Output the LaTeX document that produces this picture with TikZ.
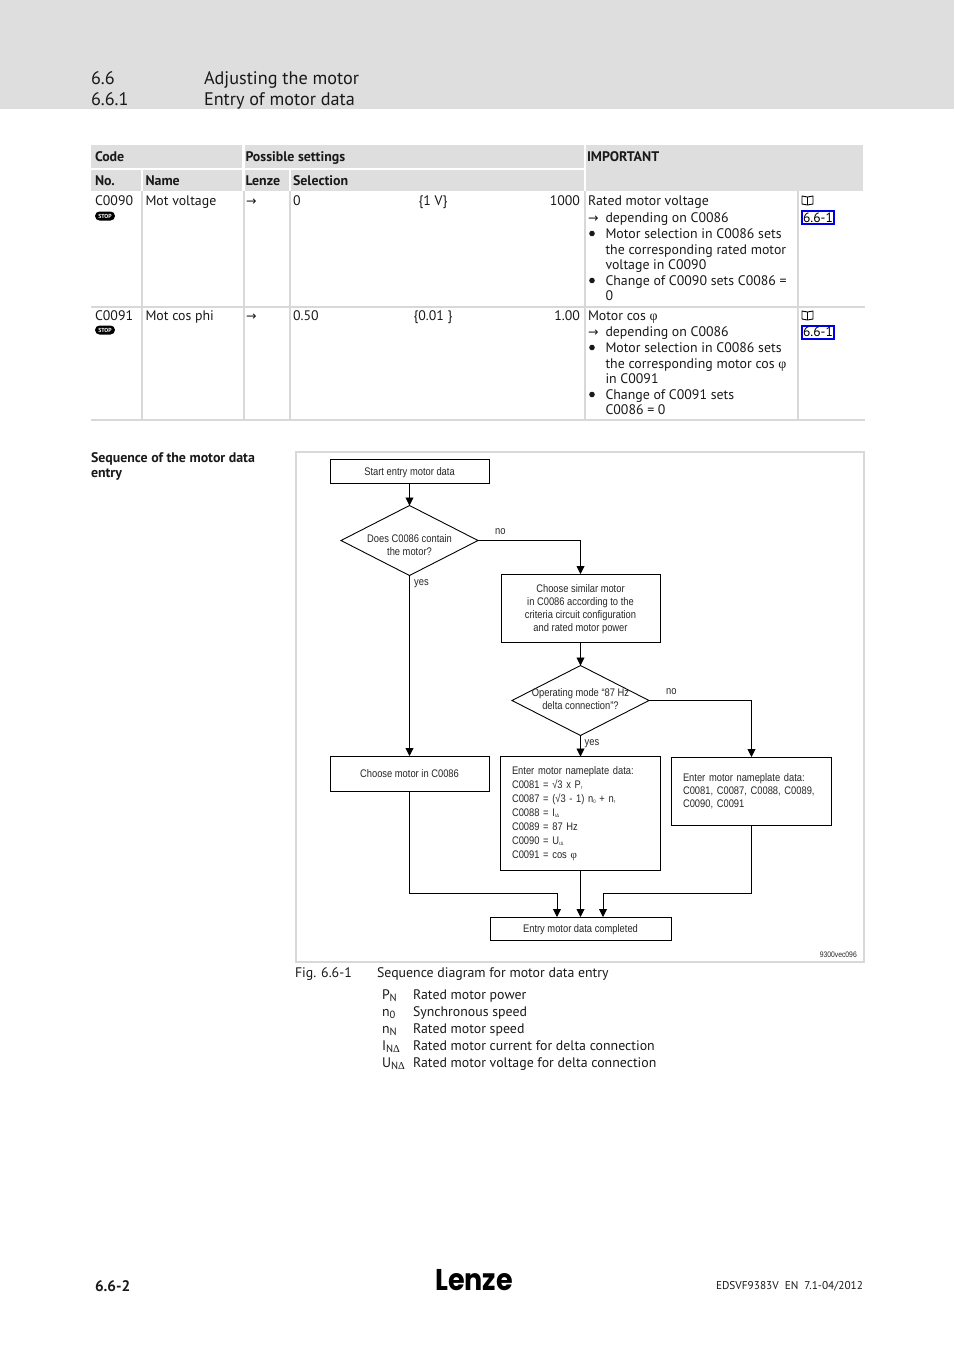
\documentclass[tikz,border=0pt]{standalone}
\usepackage{fontspec}
\setmainfont{PT Sans}
\newfontfamily\flowf[FakeStretch=0.85]{Liberation Sans}
\newfontfamily\symf{DejaVu Sans}
\newfontfamily\serf{Liberation Serif}
\newfontfamily\logof[FakeStretch=0.9]{Poppins}
\usetikzlibrary{shapes.geometric,arrows.meta,calc}
\definecolor{band}{HTML}{DEDEDE}
\definecolor{rule}{HTML}{D8D8D8}
\definecolor{linkb}{HTML}{0000E6}
\tikzset{
  x=1pt,y=-1pt,
  t/.style={anchor=base west,inner sep=0pt,outer sep=0pt,font=\fontsize{13.85}{16}\selectfont,text=black!90},
  tr/.style={t,anchor=base east},
  tc/.style={t,anchor=base},
  th/.style={t,font=\fontsize{13.9}{16}\selectfont\bfseries},
  hd/.style={t,font=\fontsize{18.2}{22}\selectfont},
  cell/.style={fill=band,draw=none},
  grid/.style={draw=rule,line width=2pt},
  fbox/.style={draw=black,line width=.9pt,fill=white,inner sep=0pt,outer sep=0pt,align=center,font=\flowf\fontsize{11}{13}\selectfont,text=black!85},
  fleft/.style={fbox,anchor=north west,align=left,text width=#1,font=\flowf\fontsize{11}{14}\selectfont},
  dia/.style={diamond,draw=black,line width=.9pt,inner sep=0pt,outer sep=0pt},
  ftxt/.style 2 args={label={[yshift=#1,align=center,inner sep=0pt,font=\flowf\fontsize{11}{13}\selectfont,text=black!85]center:#2}},
  lab/.style={anchor=base west,inner sep=0pt,font=\flowf\fontsize{11}{13}\selectfont,text=black!85},
  con/.style={draw=black,line width=.9pt,-{Triangle[length=8pt,width=8pt]}},
  stopb/.style={fill=black,rounded corners=4.5pt,minimum width=20pt,minimum height=9pt,inner sep=0pt,text=white,font=\fontsize{5.8}{6}\selectfont\bfseries},
  linkbox/.style={draw=linkb,line width=2pt,minimum width=32pt,minimum height=13pt,inner sep=0pt,font=\fontsize{13.5}{14}\selectfont},
  arr/.style={t,font=\symf\fontsize{12.5}{14}\selectfont},
  bul/.style={fill=black!90,draw=none},
  leg/.style={t},
}
\newcommand{\sbs}[1]{\raisebox{-2.5pt}{\fontsize{10.5}{11}\selectfont #1}}
\newcommand{\tsb}[1]{\raisebox{-1.5pt}{\fontsize{5}{5}\selectfont #1}}
\newcommand{\dlt}{{\serf Δ}}
\newcommand{\phig}{{\serf φ}}
\newcommand{\bookicon}[2]{%
  \draw[black,line width=.9pt,line join=round] (#1,#2) -- (#1+5.5,#2+1) -- (#1+11,#2) -- (#1+11,#2+8) -- (#1+5.5,#2+9) -- (#1,#2+8) -- cycle (#1+5.5,#2+1) -- (#1+5.5,#2+9);}
\begin{document}
\begin{tikzpicture}
\useasboundingbox (0,0) rectangle (954,1350);
\fill[white] (0,0) rectangle (954,1350);
% header band
\fill[band] (0,0) rectangle (954,109);
\node[hd] (h1) at (91,84) {6.6};
\node[hd] (h2) at (204,84) {Adjusting the motor};
\node[hd] (h3) at (91,105) {6.6.1};
\node[hd] (h4) at (204,105) {Entry of motor data};
% table header cells
\fill[cell] (91,145) rectangle (242,168);
\fill[cell] (245,145) rectangle (584,168);
\fill[cell] (586,145) rectangle (863,191);
\fill[cell] (91,170) rectangle (141,191);
\fill[cell] (143,170) rectangle (242,191);
\fill[cell] (245,170) rectangle (289,191);
\fill[cell] (291,170) rectangle (584,191);
% table rules
\draw[grid] (142,191) -- (142,420);
\draw[grid] (243.5,191) -- (243.5,420);
\draw[grid] (290,191) -- (290,420);
\draw[grid] (585,191) -- (585,420);
\draw[grid] (798,191) -- (798,420);
\draw[grid] (91,307) -- (865,307);
\draw[grid] (91,420) -- (865,420);
% header labels
\node[th] (c1) at (95,161) {Code};
\node[th] (c2) at (245.5,161) {Possible settings};
\node[th] (c3) at (587,161) {IMPORTANT};
\node[th] (c4) at (95,185) {No.};
\node[th] (c5) at (145.5,185) {Name};
\node[th] (c6) at (245.5,185) {Lenze};
\node[th] (c7) at (293,185) {Selection};
% row 1
\node[t] (a1) at (95,205) {C0090};
\node[stopb] (a2) at (105,216) {STOP};
\node[t] (a3) at (145.5,205) {Mot voltage};
\node[arr] (a4) at (246,205) {→};
\node[t] (a5) at (293,205) {0};
\node[tc] (a6) at (433,205) {\{1 V\}};
\node[tr] (a7) at (580,205) {1000};
\node[t] (a8) at (588,205) {Rated motor voltage};
\node[arr] (a9) at (588,222) {→};
\node[t] (a10) at (605.5,222) {depending on C0086};
\fill[bul] (592,233.5) circle (2.8);
\node[t] (a11) at (605.5,238) {Motor selection in C0086 sets};
\node[t] (a12) at (605.5,254) {the corresponding rated motor};
\node[t] (a13) at (605.5,269) {voltage in C0090};
\fill[bul] (592,280.5) circle (2.8);
\node[t] (a14) at (605.5,285) {Change of C0090 sets C0086 =};
\node[t] (a15) at (605.5,300) {0};
\bookicon{802}{196}
\node[linkbox] (a16) at (818,217.5) {6.6-1};
% row 2
\node[t] (b1) at (95,320) {C0091};
\node[stopb] (b2) at (105,330) {STOP};
\node[t] (b3) at (145.5,320) {Mot cos phi};
\node[arr] (b4) at (246,320) {→};
\node[t] (b5) at (293,320) {0.50};
\node[tc] (b6) at (433,320) {\{0.01 \}};
\node[tr] (b7) at (580,320) {1.00};
\node[t] (b8) at (588,320) {Motor cos \phig};
\node[arr] (b9) at (588,336) {→};
\node[t] (b10) at (605.5,336) {depending on C0086};
\fill[bul] (592,347.5) circle (2.8);
\node[t] (b11) at (605.5,352) {Motor selection in C0086 sets};
\node[t] (b12) at (605.5,368) {the corresponding motor cos \phig};
\node[t] (b13) at (605.5,383) {in C0091};
\fill[bul] (592,394.5) circle (2.8);
\node[t] (b14) at (605.5,399) {Change of C0091 sets};
\node[t] (b15) at (605.5,414) {C0086 = 0};
\bookicon{802}{311}
\node[linkbox] (b16) at (818,332) {6.6-1};
% side heading
\node[th] (s1) at (91,462) {Sequence of the motor data};
\node[th] (s2) at (91,477) {entry};
% flowchart frame
\draw[draw=rule,line width=2pt] (296,452) rectangle (864,962);
% flow nodes
\node[fbox,minimum width=159pt,minimum height=24pt,ftxt={-1pt}{Start entry motor data}] (start) at (409.5,471.5) {};
\node[dia,minimum width=137pt,minimum height=70pt,ftxt={-4.5pt}{Does C0086 contain\\the motor?}] (d1) at (409.5,540.5) {};
\node[fbox,minimum width=159pt,minimum height=68pt,ftxt={-1.5pt}{Choose similar motor\\in C0086 according to the\\criteria circuit configuration\\and rated motor power}] (choose) at (580.5,608) {};
\node[dia,minimum width=137pt,minimum height=70pt,ftxt={1pt}{Operating mode “87 Hz\\delta connection”?}] (d2) at (580.5,700.5) {};
\node[fbox,minimum width=159pt,minimum height=35pt,ftxt={0pt}{Choose motor in C0086}] (cm) at (409.5,773.5) {};
\node[fleft=137pt,minimum width=160pt,minimum height=114pt,inner xsep=11.5pt] (e1) at (500.5,756.5) {Enter motor nameplate data:\\C0081 = √3 x P\tsb{r}\\C0087 = (√3 - 1) n\tsb{0} + n\tsb{r}\\C0088 = I\tsb{rΔ}\\C0089 = 87 Hz\\C0090 = U\tsb{rΔ}\\C0091 = cos \phig};
\node[fleft=137pt,minimum width=160pt,minimum height=68pt,inner xsep=11.5pt,font=\flowf\fontsize{11}{13}\selectfont] (e2) at (671.5,757) {Enter motor nameplate data:\\C0081, C0087, C0088, C0089,\\C0090, C0091};
\node[fbox,minimum width=181pt,minimum height=23pt,ftxt={-1pt}{Entry motor data completed}] (fin) at (580.5,928.5) {};
\coordinate (finl) at (557,917);
\coordinate (finr) at (603,917);
\coordinate (bl) at (557,893);
\coordinate (br) at (603,893);
% connectors
\draw[con] (start.south) -- (d1.north);
\draw[con] (d1.east) -| (choose.north);
\draw[con] (choose.south) -- (d2.north);
\draw[con] (d1.south) -- (cm.north);
\draw[con] (d2.south) -- (e1.north);
\draw[con] (d2.east) -| (e2.north);
\draw[con] (e1.south) -- (fin.north);
\draw[con] (cm.south) |- (bl) -- (finl);
\draw[con] (e2.south) |- (br) -- (finr);
\node[lab] (l1) at (495,534) {no};
\node[lab] (l2) at (414,585) {yes};
\node[lab] (l3) at (666,694) {no};
\node[lab] (l4) at (584.5,745) {yes};
\node[anchor=base east,inner sep=0pt,font=\flowf\fontsize{8}{9}\selectfont,text=black!85] (code) at (857,957) {9300vec096};
% caption and legend
\node[leg] (f1) at (295,977) {Fig. 6.6-1};
\node[leg] (f2) at (377,977) {Sequence diagram for motor data entry};
\node[leg] (g1) at (382,999) {P\sbs{N}};
\node[leg] (g2) at (413,999) {Rated motor power};
\node[leg] (g3) at (382,1016) {n\sbs{0}};
\node[leg] (g4) at (413,1016) {Synchronous speed};
\node[leg] (g5) at (382,1033) {n\sbs{N}};
\node[leg] (g6) at (413,1033) {Rated motor speed};
\node[leg] (g7) at (382,1050) {I\sbs{N\dlt}};
\node[leg] (g8) at (413,1050) {Rated motor current for delta connection};
\node[leg] (g9) at (382,1067) {U\sbs{N\dlt}};
\node[leg] (g10) at (413,1067) {Rated motor voltage for delta connection};
% footer
\node[t,font=\fontsize{15.3}{16}\selectfont\bfseries] (p1) at (95,1291) {6.6-2};
\node[anchor=base,inner sep=0pt,font=\logof\fontsize{30}{30}\selectfont\bfseries,text=black] (p2) at (474,1290) {Lenze};
\node[tr,font=\fontsize{11.3}{13}\selectfont] (p3) at (863,1289) {EDSVF9383V\ \ EN\ \ 7.1-04/2012};
\end{tikzpicture}
\end{document}
